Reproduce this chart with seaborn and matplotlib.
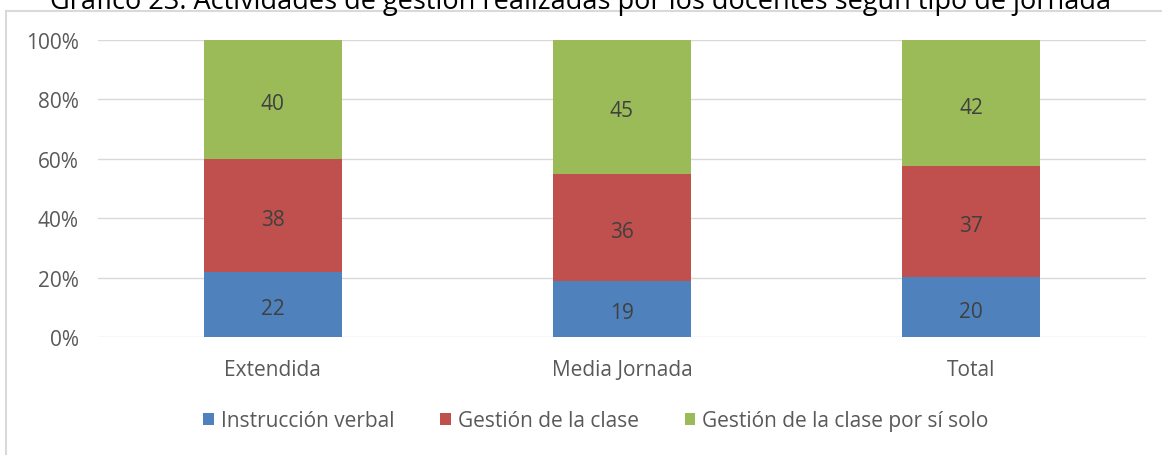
import pandas as pd
import seaborn as sns
import matplotlib.pyplot as plt
from matplotlib.patches import Patch, Rectangle
from matplotlib.ticker import PercentFormatter

sns.set_style("white")
plt.rcParams['font.family'] = ['Open Sans', 'DejaVu Sans']

categories = ["Extendida", "Media Jornada", "Total"]
series = ["Instrucción verbal", "Gestión de la clase", "Gestión de la clase por sí solo"]
instruccion = [22, 19, 20]
gestion = [38, 36, 37]
por_si_solo = [40, 45, 42]
colors = ["#4F81BD", "#C0504D", "#9BBB59"]
title = "Gráfico 23: Actividades de gestión realizadas por los docentes según tipo de jornada"

df = pd.DataFrame({"jornada": categories, series[0]: instruccion,
                   series[1]: gestion, series[2]: por_si_solo})
tot = df[series].sum(axis=1)
shares = df[series].div(tot, axis=0) * 100
cum = shares.cumsum(axis=1)
cum["jornada"] = categories

fig = plt.figure(figsize=(11.62, 4.56), dpi=100)
fig.patches.append(Rectangle((6 / 1162, -0.1), 1.2, 1.1 - 12 / 456, transform=fig.transFigure,
                             fill=False, edgecolor="#D9D9D9", linewidth=1.5))
fig.text(0.5, 1 - 9 / 456, title, ha="center", va="baseline", fontsize=19.5, color="#000000")

ax = fig.add_axes([98 / 1162, 1 - 338 / 456, (1146 - 98) / 1162, (338 - 41) / 456])

# draw tallest stacks first so the lower segments sit on top
for i in [2, 1, 0]:
    sns.barplot(data=cum, x="jornada", y=series[i], color=colors[i], width=0.395,
                saturation=1, linewidth=0, ax=ax, zorder=2)

for i in range(3):
    bottom = cum[series[i]] - shares[series[i]]
    for j in range(3):
        ax.annotate(str(df[series[i]][j]), (j, bottom[j] + shares[series[i]][j] / 2),
                    xytext=(0, -3), textcoords="offset points",
                    ha="center", va="center", fontsize=15, color="#404040", zorder=3)

ax.set_ylim(0, 100)
ax.set_xlim(-0.5, 2.5)
ax.set_yticks(range(0, 101, 20))
ax.yaxis.set_major_formatter(PercentFormatter(decimals=0))
ax.grid(axis="y", color="#D9D9D9", linewidth=1, zorder=0)
ax.set_axisbelow(True)
for s in ax.spines.values():
    s.set_visible(False)
ax.set_xlabel("")
ax.set_ylabel("")
ax.tick_params(axis="both", length=0, labelsize=15, colors="#595959")
ax.tick_params(axis="y", pad=14)
ax.tick_params(axis="x", pad=16)

handles = [Patch(facecolor=c, edgecolor="none") for c in colors]
fig.legend(handles, series, loc="center", bbox_to_anchor=(596 / 1162, 1 - 422 / 456), ncol=3,
           frameon=False, fontsize=15, handlelength=0.5, handleheight=0.5,
           handletextpad=0.35, columnspacing=2.2, labelcolor="#595959")

fig.savefig("out.png", dpi=100)
